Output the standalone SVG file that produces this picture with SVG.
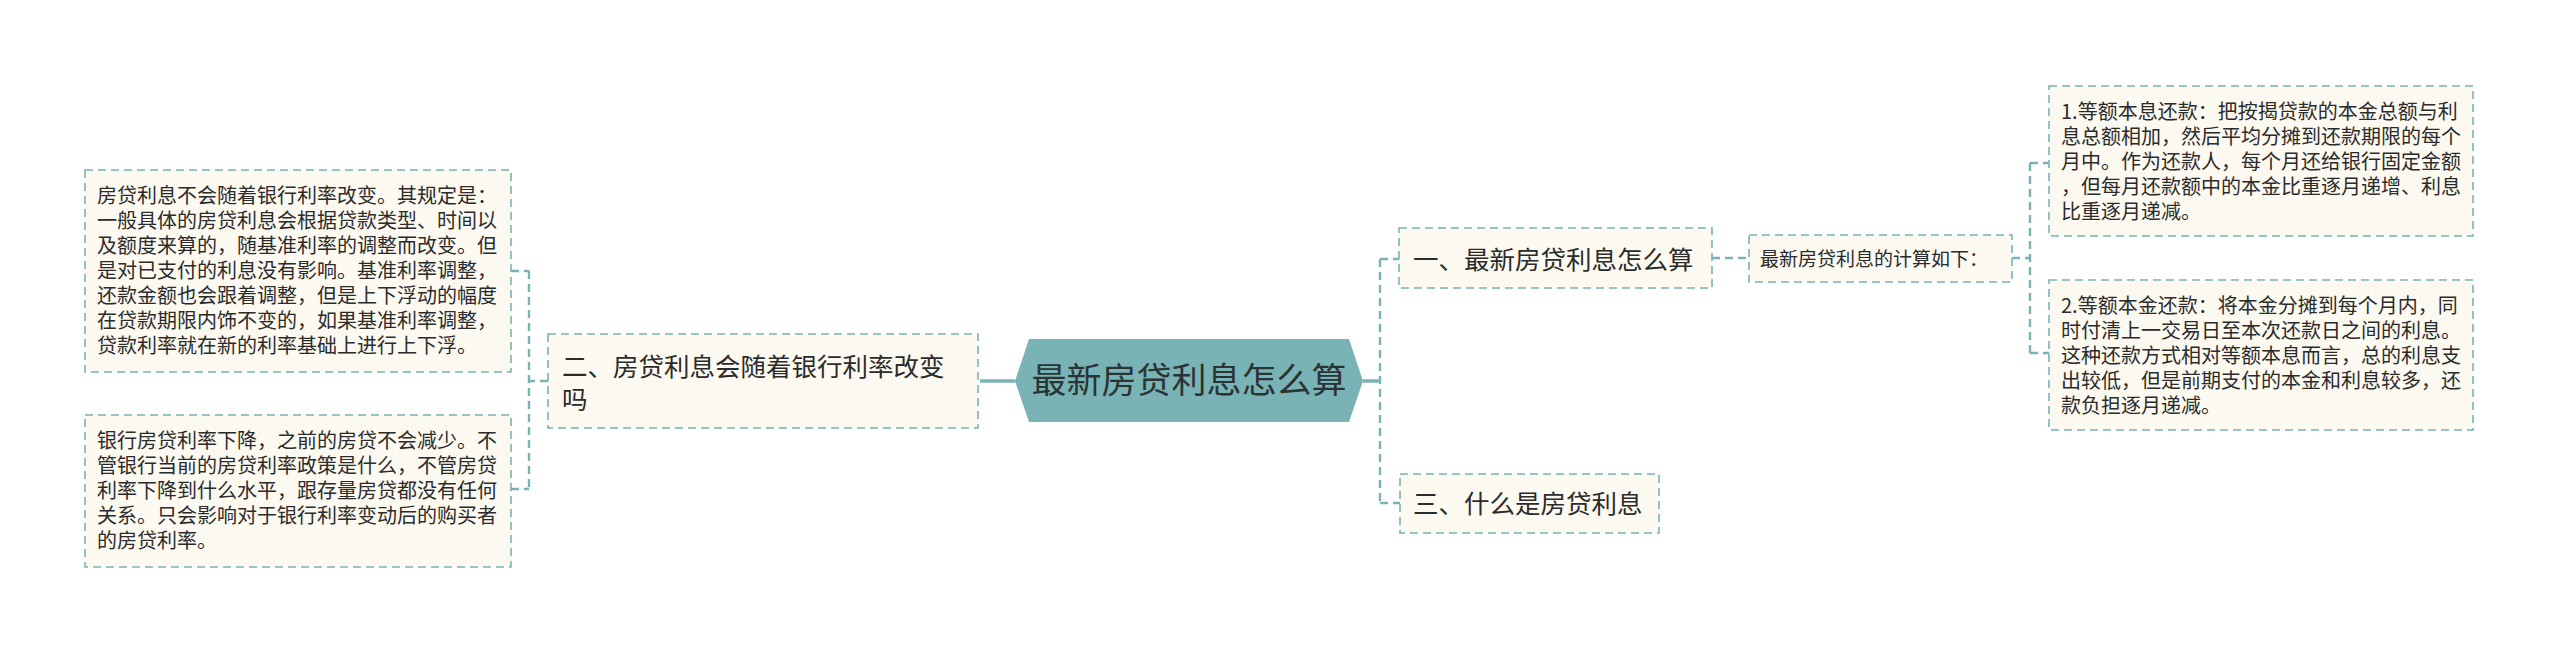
<svg xmlns="http://www.w3.org/2000/svg" width="2560" height="652" viewBox="0 0 2560 652">
<style>
.bg{fill:#ffffff}
.box{fill:#fcf9f0;stroke:#7ab3b5;stroke-width:1.6;stroke-dasharray:8 5}
.con{fill:none;stroke:#7ab3b5;stroke-width:2.4;stroke-dasharray:8 5}
.solid{fill:none;stroke:#7ab3b5;stroke-width:3.5}
.t{font-family:"Noto Sans CJK SC","Noto Sans",sans-serif;fill:#2b2b2b}
.s20{font-size:20px}
.s19{font-size:19px}
.s26{font-size:25.5px}
.hex{fill:#7ab3b5}
.root{font-size:35px;fill:#2a3434}
</style>
<rect class="bg" x="0" y="0" width="2560" height="652"/>
<g id="connectors">
  <path class="solid" d="M980 381 H1015"/>
  <path class="solid" d="M1363 381 H1380"/>
  <path class="con" d="M548 381 H529 M529 271 V489 M511 271 H529 M511 489 H529"/>
  <path class="con" d="M1380 259 V503 M1380 259 H1399 M1380 503 H1400"/>
  <path class="con" d="M1712 258 H1749"/>
  <path class="con" d="M2012 258 H2030 M2030 163 V353 M2030 163 H2049 M2030 353 H2049"/>
</g>
<g id="root">
  <polygon class="hex" points="1015,381 1029,339 1349,339 1363,381 1349,422 1029,422"/>
  <text class="t root" x="1189" y="393" text-anchor="middle">最新房贷利息怎么算</text>
</g>
<g id="node-left">
  <rect class="box" x="548" y="334" width="430" height="94"/>
  <text class="t s26" x="562" y="376">二、房贷利息会随着银行利率改变</text>
  <text class="t s26" x="562" y="409">吗</text>
</g>
<g id="leaf-left-1">
  <rect class="box" x="85" y="170" width="426" height="202"/>
  <text class="t s20" x="97">
    <tspan x="97" y="203">房贷利息不会随着银行利率改变。其规定是：</tspan>
    <tspan x="97" y="228">一般具体的房贷利息会根据贷款类型、时间以</tspan>
    <tspan x="97" y="253">及额度来算的，随基准利率的调整而改变。但</tspan>
    <tspan x="97" y="278">是对已支付的利息没有影响。基准利率调整，</tspan>
    <tspan x="97" y="303">还款金额也会跟着调整，但是上下浮动的幅度</tspan>
    <tspan x="97" y="328">在贷款期限内饰不变的，如果基准利率调整，</tspan>
    <tspan x="97" y="353">贷款利率就在新的利率基础上进行上下浮。</tspan>
  </text>
</g>
<g id="leaf-left-2">
  <rect class="box" x="85" y="415" width="426" height="152"/>
  <text class="t s20" x="97">
    <tspan x="97" y="448">银行房贷利率下降，之前的房贷不会减少。不</tspan>
    <tspan x="97" y="473">管银行当前的房贷利率政策是什么，不管房贷</tspan>
    <tspan x="97" y="498">利率下降到什么水平，跟存量房贷都没有任何</tspan>
    <tspan x="97" y="523">关系。只会影响对于银行利率变动后的购买者</tspan>
    <tspan x="97" y="548">的房贷利率。</tspan>
  </text>
</g>
<g id="node-right-1">
  <rect class="box" x="1399" y="228" width="313" height="60"/>
  <text class="t s26" x="1413" y="269">一、最新房贷利息怎么算</text>
</g>
<g id="node-calc">
  <rect class="box" x="1749" y="235" width="263" height="47"/>
  <text class="t s19" x="1760" y="266">最新房贷利息的计算如下：</text>
</g>
<g id="leaf-right-1">
  <rect class="box" x="2049" y="86" width="424" height="150"/>
  <text class="t s20" x="2061">
    <tspan x="2061" y="119">1.等额本息还款：把按揭贷款的本金总额与利</tspan>
    <tspan x="2061" y="144">息总额相加，然后平均分摊到还款期限的每个</tspan>
    <tspan x="2061" y="169">月中。作为还款人，每个月还给银行固定金额</tspan>
    <tspan x="2061" y="194">，但每月还款额中的本金比重逐月递增、利息</tspan>
    <tspan x="2061" y="219">比重逐月递减。</tspan>
  </text>
</g>
<g id="leaf-right-2">
  <rect class="box" x="2049" y="280" width="424" height="150"/>
  <text class="t s20" x="2061">
    <tspan x="2061" y="313">2.等额本金还款：将本金分摊到每个月内，同</tspan>
    <tspan x="2061" y="338">时付清上一交易日至本次还款日之间的利息。</tspan>
    <tspan x="2061" y="363">这种还款方式相对等额本息而言，总的利息支</tspan>
    <tspan x="2061" y="388">出较低，但是前期支付的本金和利息较多，还</tspan>
    <tspan x="2061" y="413">款负担逐月递减。</tspan>
  </text>
</g>
<g id="node-right-3">
  <rect class="box" x="1400" y="474" width="259" height="59"/>
  <text class="t s26" x="1413" y="513">三、什么是房贷利息</text>
</g>
</svg>
